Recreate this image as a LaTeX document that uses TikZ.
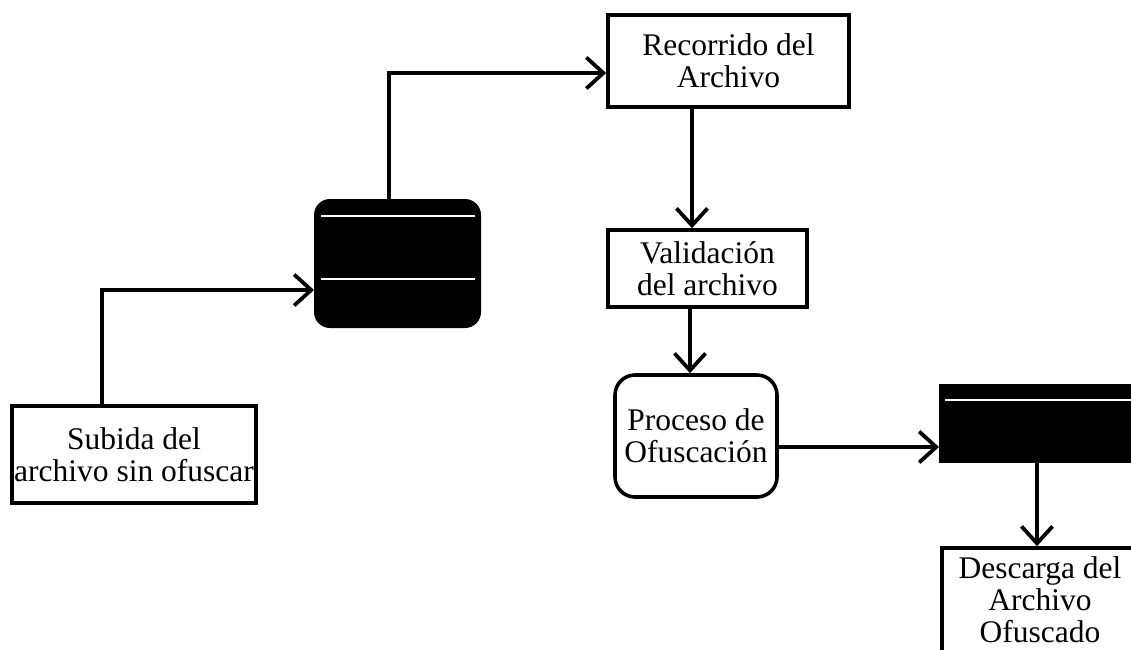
\documentclass[tikz,border=0pt]{standalone}
\usepackage{fontspec}
\setmainfont{Liberation Serif}
\usetikzlibrary{arrows.meta,calc}
\begin{document}
\begin{tikzpicture}[x=1pt,y=-1pt,
  box/.style={draw, line width=3.6pt, fill=white, inner sep=0pt, align=center,
              font=\fontsize{31.5}{32}\selectfont},
  rbox/.style={box, rounded corners=20pt},
  bar/.style={draw, line width=2pt, fill=black, inner sep=0pt},
  conn/.style={line width=3.8pt, -{Straight Barb[length=17pt,width=31pt]}},
  sep/.style={white, line width=1.6pt}]
\useasboundingbox (0,0) rectangle (1131,649);
\clip (0,0) rectangle (1131,649);
\fill[white] (0,0) rectangle (1131,649);

\node[box, minimum width=244pt, minimum height=97pt] (sub) at (134,454.5) {Subida del\\archivo sin ofuscar};
\node[bar, rounded corners=15pt, minimum width=165pt, minimum height=127pt] (b1) at (397.5,263.5) {};
\node[box, minimum width=241pt, minimum height=92pt] (rec) at (728.5,61) {Recorrido del\\Archivo};
\node[box, minimum width=199pt, minimum height=77pt] (val) at (707.5,268.5) {Validación\\del archivo};
\node[rbox, minimum width=162pt, minimum height=122pt] (proc) at (696,436) {Proceso de\\Ofuscación};
\node[bar, minimum width=200pt, minimum height=77pt] (b2) at (1040,423.5) {};
\node[box, minimum width=196pt, minimum height=104pt] (desc) at (1040,600) {Descarga del\\Archivo\\Ofuscado};

% white separator lines in the black bars
\draw[sep] ([xshift=7pt,yshift=-17pt]b1.north west) -- ([xshift=-6pt,yshift=-17pt]b1.north east);
\draw[sep] ([xshift=7pt,yshift=49pt]b1.south west) -- ([xshift=-6pt,yshift=49pt]b1.south east);
\draw[sep] ([xshift=6pt,yshift=-16pt]b2.north west) -- ([yshift=-16pt]b2.north east);

% connectors
\draw[conn] ([xshift=-32pt]sub.north) |- ([yshift=-26.5pt]b1.west);
\draw[conn] ([xshift=-8.5pt]b1.north) |- ([yshift=-12pt]rec.west);
\draw[conn] ([xshift=-36.5pt]rec.south) -- ([xshift=-36.5pt]rec.south |- val.north);
\draw[conn] ([xshift=-17.5pt]val.south) -- ([xshift=-17.5pt]val.south |- proc.north);
\draw[conn] ([yshift=-11pt]proc.east) -- ([yshift=-11pt]proc.east -| b2.west);
\draw[conn] ([xshift=-3pt]b2.south) -- ([xshift=-3pt]b2.south |- desc.north);
\end{tikzpicture}
\end{document}
